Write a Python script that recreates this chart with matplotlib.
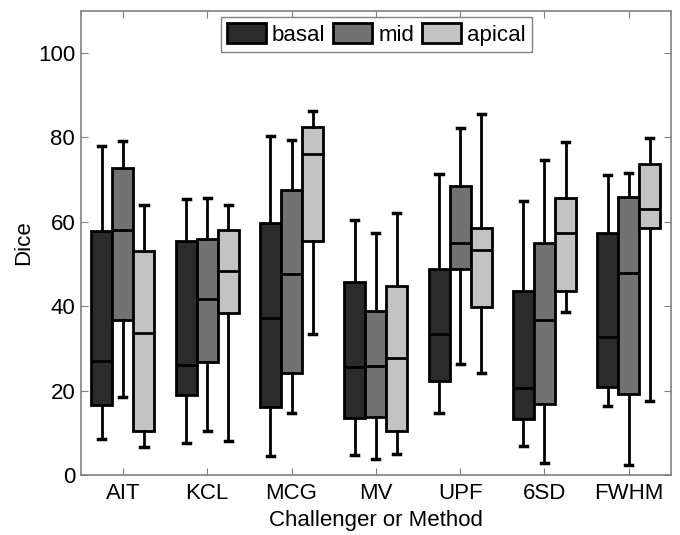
import matplotlib
matplotlib.use("Agg")
import matplotlib.pyplot as plt
from matplotlib.patches import Patch

plt.rcParams['font.family'] = ['Liberation Sans', 'DejaVu Sans']

methods = ["AIT", "KCL", "MCG", "MV", "UPF", "6SD", "FWHM"]
regions = ["basal", "mid", "apical"]
colors = ["#2b2b2b", "#727272", "#c3c3c3"]

# [low whisker, q1, median, q3, high whisker] per method
basal = [
    [8.6, 16.6, 27.0, 57.8, 77.9],
    [7.6, 18.9, 26.0, 55.4, 65.3],
    [4.6, 16.2, 37.3, 59.7, 80.2],
    [4.7, 13.4, 25.5, 45.6, 60.5],
    [14.6, 22.2, 33.4, 48.9, 71.4],
    [6.9, 13.2, 20.7, 43.5, 64.9],
    [16.3, 20.8, 32.6, 57.4, 71.0],
]
mid = [
    [18.4, 36.7, 58.1, 72.7, 79.1],
    [10.5, 26.7, 41.6, 55.9, 65.5],
    [14.6, 24.1, 47.6, 67.6, 79.4],
    [3.7, 13.8, 25.8, 38.8, 57.4],
    [26.4, 48.8, 55.0, 68.5, 82.2],
    [2.8, 16.8, 36.7, 55.0, 74.7],
    [2.4, 19.1, 47.9, 65.8, 71.6],
]
apical = [
    [6.6, 10.4, 33.6, 53.1, 63.9],
    [8.1, 38.4, 48.3, 58.1, 63.9],
    [33.5, 55.4, 76.1, 82.4, 86.2],
    [5.0, 10.4, 27.8, 44.7, 62.1],
    [24.1, 39.7, 53.4, 58.5, 85.6],
    [38.6, 43.5, 57.2, 65.7, 78.9],
    [17.5, 58.4, 62.9, 73.6, 79.9],
]
series = [basal, mid, apical]
offsets = [-0.25, 0.0, 0.25]
box_w = 0.25

fig = plt.figure(figsize=(6.8, 5.35), dpi=100)
ax = fig.add_axes([0.1187, 0.1122, 0.868, 0.868])

for vals, off, col in zip(series, offsets, colors):
    stats = []
    for v in vals:
        stats.append(dict(whislo=v[0], q1=v[1], med=v[2], q3=v[3], whishi=v[4], fliers=[]))
    pos = [i + 1 + off for i in range(len(methods))]
    ax.bxp(stats, positions=pos, widths=box_w, patch_artist=True, showfliers=False,
           capwidths=0.085,
           boxprops=dict(facecolor=col, edgecolor="black", linewidth=2),
           medianprops=dict(color="black", linewidth=2),
           whiskerprops=dict(color="black", linewidth=2),
           capprops=dict(color="black", linewidth=2.5),
           manage_ticks=False)

ax.set_xlim(0.5, 7.5)
ax.set_ylim(0, 110)
ax.set_xticks(range(1, len(methods) + 1))
ax.set_xticklabels(methods)
ax.set_yticks([0, 20, 40, 60, 80, 100])
ax.tick_params(direction="in", which="both", top=True, right=True, length=5,
               color="#808080", labelsize=16)
ax.tick_params(axis="x", pad=6)
ax.tick_params(axis="y", pad=4)
for s in ax.spines.values():
    s.set_color("#808080")
    s.set_linewidth(1.2)
ax.set_xlabel("Challenger or Method", fontsize=16, labelpad=4)
ax.set_ylabel("Dice", fontsize=16, labelpad=3)

handles = [Patch(facecolor=c, edgecolor="black", linewidth=2, label=r) for c, r in zip(colors, regions)]
leg = ax.legend(handles=handles, loc="upper center", bbox_to_anchor=(0.501, 0.9858), ncol=3, fontsize=16,
                frameon=True, fancybox=False, edgecolor="#808080", framealpha=1,
                handlelength=1.75, handleheight=1.0, handletextpad=0.27, columnspacing=0.36,
                borderpad=0.27, borderaxespad=0.0)
leg.get_frame().set_linewidth(1.0)

fig.savefig("out.png", dpi=100)
